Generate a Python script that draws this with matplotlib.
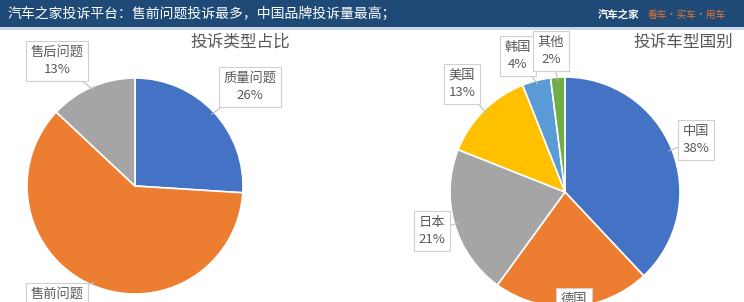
import matplotlib
matplotlib.use("Agg")
import matplotlib.pyplot as plt
from matplotlib.patches import Rectangle
import numpy as np

plt.rcParams['font.family'] = ['Noto Sans CJK SC', 'DejaVu Sans']

# ---- data ----
header_title = "汽车之家投诉平台：售前问题投诉最多，中国品牌投诉量最高；"
type_title = "投诉类型占比"
type_labels = ["质量问题", "售前问题", "售后问题"]
type_values = [26, 61, 13]
type_colors = ["#4472C4", "#ED7D31", "#A5A5A5"]

country_title = "投诉车型国别"
country_labels = ["中国", "德国", "日本", "美国", "韩国", "其他"]
country_values = [38, 22, 21, 13, 4, 2]
country_colors = ["#4472C4", "#ED7D31", "#A5A5A5", "#FFC000", "#5B9BD5", "#70AD47"]

W, H = 744, 302
fig = plt.figure(figsize=(W / 100, H / 100), dpi=100)
fig.patch.set_facecolor("white")

# header bar
hdr = fig.add_axes([0, 1 - 27 / H, 1, 27 / H])
hdr.set_axis_off()
hdr.add_patch(Rectangle((0, 0), 1, 1, color="#1F4A78", transform=hdr.transAxes))
line = fig.add_axes([0, 1 - 29.5 / H, 1, 2.5 / H])
line.set_axis_off()
line.add_patch(Rectangle((0, 0), 1, 1, color="#C9D6E3", transform=line.transAxes))

fig.text(7 / W, 1 - 13.5 / H, header_title, color="white", fontsize=10,
         va="center", ha="left")
fig.text(598 / W, 1 - 15 / H, "汽车之家", color="white", fontsize=7.5,
         fontweight="bold", va="center", ha="left")
fig.text(648 / W, 1 - 15 / H, "看车·买车·用车", color="#E8742A", fontsize=7,
         va="center", ha="left")


def make_pie(cx, cy, r, values, colors):
    ax = fig.add_axes([(cx - r) / W, (H - cy - r) / H, 2 * r / W, 2 * r / H])
    wedges, _ = ax.pie(values, colors=colors, startangle=90, counterclock=False,
                       radius=1, wedgeprops=dict(edgecolor="white", linewidth=1.2))
    ax.set_xlim(-1, 1)
    ax.set_ylim(-1, 1)
    ax.set_axis_off()
    for w in wedges:
        w.set_clip_on(False)
    return ax, wedges


def label(ax, wedge, text, px, py, anchor_r=1.0):
    ang = np.deg2rad((wedge.theta1 + wedge.theta2) / 2)
    xy = (anchor_r * np.cos(ang), anchor_r * np.sin(ang))
    ax.annotate(text, xy=xy, xycoords="data",
                xytext=(px, H - py), textcoords="figure pixels",
                ha="center", va="center", fontsize=9.5, color="#595959",
                linespacing=1.45, annotation_clip=False,
                bbox=dict(boxstyle="square,pad=0.35", fc="white", ec="#D0D0D0", lw=0.8),
                arrowprops=dict(arrowstyle="-", color="#BFBFBF", lw=0.8,
                                shrinkA=0, shrinkB=0))


# left pie
axL, wL = make_pie(135, 186, 108, type_values, type_colors)
fig.text(240 / W, 1 - 42 / H, type_title, fontsize=12, color="#595959",
         ha="center", va="center")
type_pos = [(250, 87), (57, 303), (57, 61)]
for w, lab, v, (px, py) in zip(wL, type_labels, type_values, type_pos):
    label(axL, w, f"{lab}\n{v}%", px, py, anchor_r=0.97)

# right pie
axR, wR = make_pie(565, 192, 115, country_values, country_colors)
fig.text(683 / W, 1 - 42 / H, country_title, fontsize=12, color="#595959",
         ha="center", va="center")
country_pos = [(696, 140), (574, 308), (432, 231), (462, 84), (518, 56), (551, 51)]
for w, lab, v, (px, py) in zip(wR, country_labels, country_values, country_pos):
    label(axR, w, f"{lab}\n{v}%", px, py, anchor_r=0.97)

fig.savefig("out.png", dpi=100, facecolor="white")
